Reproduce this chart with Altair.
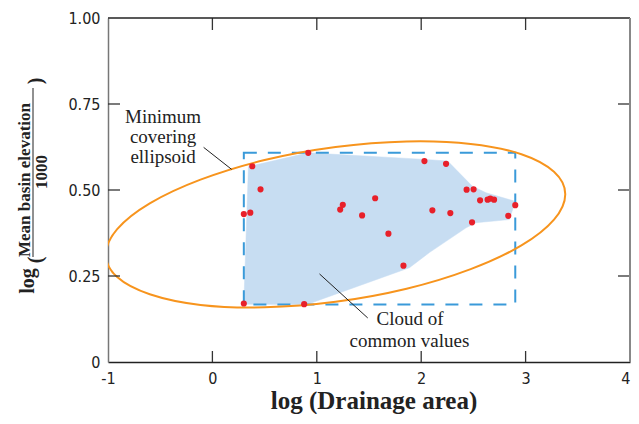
import altair as alt
import pandas as pd

# ---- data ----
pts_x = [0.382, 0.918, 0.461, 0.301, 0.363, 1.249, 1.224, 1.559, 1.434, 1.686, 1.830, 0.301, 0.879,
         2.031, 2.238, 2.435, 2.502, 2.564, 2.636, 2.662, 2.698, 2.901, 2.834, 2.107, 2.279, 2.487]
pts_y = [0.569, 0.608, 0.502, 0.430, 0.434, 0.457, 0.443, 0.476, 0.426, 0.373, 0.280, 0.170, 0.168,
         0.584, 0.576, 0.501, 0.502, 0.470, 0.472, 0.475, 0.472, 0.456, 0.425, 0.441, 0.433, 0.406]

cloud_x = [0.301, 0.345, 0.918, 2.031, 2.254, 2.490, 2.621, 2.902, 2.844, 2.525, 2.430, 2.078, 1.887, 0.959, 0.879]
cloud_y = [0.168, 0.568, 0.608, 0.589, 0.584, 0.511, 0.492, 0.467, 0.414, 0.405, 0.390, 0.318, 0.274, 0.173, 0.167]

box_x = [0.301, 2.901]
box_y = [0.167, 0.608]

ell_x = [3.380, 3.272, 2.960, 2.474, 1.860, 1.180, 0.500, -0.114, -0.600, -0.912,
         -1.020, -0.912, -0.600, -0.114, 0.500, 1.180, 1.860, 2.474, 2.960, 3.272]
ell_y = [0.488, 0.553, 0.604, 0.634, 0.641, 0.625, 0.587, 0.530, 0.461, 0.386,
         0.312, 0.247, 0.197, 0.166, 0.159, 0.175, 0.213, 0.270, 0.339, 0.414]

x_tick_labels = [-1, 0, 1, 2, 3, 4]
y_tick_labels = [0, 0.25, 0.5, 0.75, 1.0]
x_inner_ticks = [0, 1, 2, 3]
y_inner_ticks = [0.25, 0.5, 0.75]

ann_text = ["Minimum", "covering", "ellipsoid", "Cloud of", "common values"]
ann_x = [-0.472, -0.472, -0.472, 1.894, 1.888]
ann_y = [0.711, 0.653, 0.595, 0.125, 0.062]

leader_x = [-0.084, 1.488]
leader_y = [0.624, 0.128]
leader_x2 = [0.184, 1.026]
leader_y2 = [0.560, 0.256]

W, H = 522, 344
XD = [-1, 4]
YD = [0, 1]
SANS = "Liberation Sans Narrow, DejaVu Sans Condensed, Roboto, sans-serif"
SERIF = "Liberation Serif, Times New Roman, serif"

xs = alt.Scale(domain=XD, nice=False, zero=False)
ys = alt.Scale(domain=YD, nice=False, zero=False)

df_pts = pd.DataFrame({"x": pts_x, "y": pts_y})
df_cloud = pd.DataFrame({"x": cloud_x, "y": cloud_y, "i": list(range(len(cloud_x)))})
df_box = pd.DataFrame({"x": [box_x[0]], "x2": [box_x[1]], "y": [box_y[0]], "y2": [box_y[1]]})
df_ell = pd.DataFrame({"x": ell_x, "y": ell_y, "i": list(range(len(ell_x)))})
df_ann = pd.DataFrame({"t": ann_text, "x": ann_x, "y": ann_y})
df_lead = pd.DataFrame({"x": leader_x, "y": leader_y, "x2": leader_x2, "y2": leader_y2})
df_xt = pd.DataFrame({"v": x_inner_ticks})
df_yt = pd.DataFrame({"v": y_inner_ticks})
df_one = pd.DataFrame({"a": [0]})

base_axes = alt.Chart(df_one).mark_point(opacity=0).encode(
    x=alt.X("a:Q", scale=xs, title=None,
            axis=alt.Axis(values=x_tick_labels, ticks=False, grid=False, labelFont=SANS,
                          labelFontSize=16, labelColor="#222", labelPadding=8,
                          domainColor="#222", domainWidth=1.3, labelFlush=False,
                          labelAlign={"condition": {"test": "datum.value == 4", "value": "right"},
                                      "value": "center"},
                          labelExpr="'' + datum.value")),
    y=alt.Y("a:Q", scale=ys, title=None,
            axis=alt.Axis(values=y_tick_labels, ticks=False, grid=False, labelFont=SANS,
                          labelFontSize=16, labelColor="#222", labelPadding=8,
                          domainColor="#777", domainWidth=1.5, labelFlush=False,
                          labelExpr="datum.value == 0 ? '0' : format(datum.value, '.2f')")),
)

cloud = alt.Chart(df_cloud).mark_line(
    fill="#c7ddf2", stroke="#c7ddf2", strokeWidth=0.5, interpolate="linear-closed"
).encode(x=alt.X("x:Q", scale=xs), y=alt.Y("y:Q", scale=ys), order="i:Q")

box = alt.Chart(df_box).mark_rect(
    fill=None, stroke="#3a9ad9", strokeWidth=2, strokeDash=[13, 11]
).encode(x=alt.X("x:Q", scale=xs), x2="x2:Q", y=alt.Y("y:Q", scale=ys), y2="y2:Q")

ell = alt.Chart(df_ell).mark_line(
    stroke="#f7941d", strokeWidth=2, interpolate="cardinal-closed", clip=True
).encode(x=alt.X("x:Q", scale=xs), y=alt.Y("y:Q", scale=ys), order="i:Q")

leads = alt.Chart(df_lead).mark_rule(color="#222", strokeWidth=1).encode(
    x=alt.X("x:Q", scale=xs), y=alt.Y("y:Q", scale=ys), x2="x2:Q", y2="y2:Q")

pts = alt.Chart(df_pts).mark_circle(color="#e8202a", size=38, opacity=1).encode(
    x=alt.X("x:Q", scale=xs), y=alt.Y("y:Q", scale=ys))

ann = alt.Chart(df_ann).mark_text(
    font=SERIF, fontSize=19, color="#222", align="center", baseline="middle"
).encode(x=alt.X("x:Q", scale=xs), y=alt.Y("y:Q", scale=ys), text="t:N")

# inner ticks
tick_style = dict(color="#333", strokeWidth=1.3)
xt_top = alt.Chart(df_xt).mark_rule(**tick_style).encode(
    x=alt.X("v:Q", scale=xs), y=alt.value(0), y2=alt.value(12))
xt_bot = alt.Chart(df_xt).mark_rule(**tick_style).encode(
    x=alt.X("v:Q", scale=xs), y=alt.value(H), y2=alt.value(H - 11))
yt_left = alt.Chart(df_yt).mark_rule(**tick_style).encode(
    y=alt.Y("v:Q", scale=ys), x=alt.value(0), x2=alt.value(12))
yt_right = alt.Chart(df_yt).mark_rule(**tick_style).encode(
    y=alt.Y("v:Q", scale=ys), x=alt.value(W), x2=alt.value(W - 12))

# frame top / right
top_line = alt.Chart(df_one).mark_rule(color="#222", strokeWidth=1.3).encode(
    x=alt.value(0), x2=alt.value(W), y=alt.value(0))
right_line = alt.Chart(df_one).mark_rule(color="#888", strokeWidth=2).encode(
    x=alt.value(W), y=alt.value(0), y2=alt.value(H))

# axis titles
xtitle = alt.Chart(df_one).mark_text(
    text="log (Drainage area)", font=SERIF, fontSize=25, fontWeight="bold", color="#222",
    align="center", baseline="alphabetic"
).encode(x=alt.value(266), y=alt.value(391))

ylog = alt.Chart(df_one).mark_text(
    text="log", font=SERIF, fontSize=20, fontWeight="bold", color="#222",
    angle=270, align="center", baseline="middle"
).encode(x=alt.value(-80), y=alt.value(263))
ylparen = alt.Chart(df_one).mark_text(
    text="(", font=SERIF, fontSize=20, fontWeight="bold", color="#222",
    angle=270, align="center", baseline="middle"
).encode(x=alt.value(-72), y=alt.value(242))
ynum = alt.Chart(df_one).mark_text(
    text="Mean basin elevation", font=SERIF, fontSize=17, fontWeight="bold", color="#222",
    angle=270, align="center", baseline="middle"
).encode(x=alt.value(-83), y=alt.value(162))
yfrac = alt.Chart(df_one).mark_rule(color="#222", strokeWidth=1).encode(
    x=alt.value(-75), y=alt.value(70), y2=alt.value(239))
yden = alt.Chart(df_one).mark_text(
    text="1000", font=SERIF, fontSize=17, fontWeight="bold", color="#222",
    angle=270, align="center", baseline="middle"
).encode(x=alt.value(-66), y=alt.value(154))
yrparen = alt.Chart(df_one).mark_text(
    text=")", font=SERIF, fontSize=20, fontWeight="bold", color="#222",
    angle=270, align="center", baseline="middle"
).encode(x=alt.value(-72), y=alt.value(63))

chart = alt.layer(
    base_axes, cloud, box, ell, leads, pts, ann,
    xt_top, xt_bot, yt_left, yt_right, top_line, right_line,
    xtitle, ylog, ylparen, ynum, yfrac, yden, yrparen
).properties(
    width=W, height=H,
    autosize=alt.AutoSizeParams(type="none"),
    padding={"left": 100, "top": 10, "right": 1, "bottom": 52},
).configure_view(stroke=None)

chart.save("out.html", embed_options={"renderer": "svg", "actions": False})
